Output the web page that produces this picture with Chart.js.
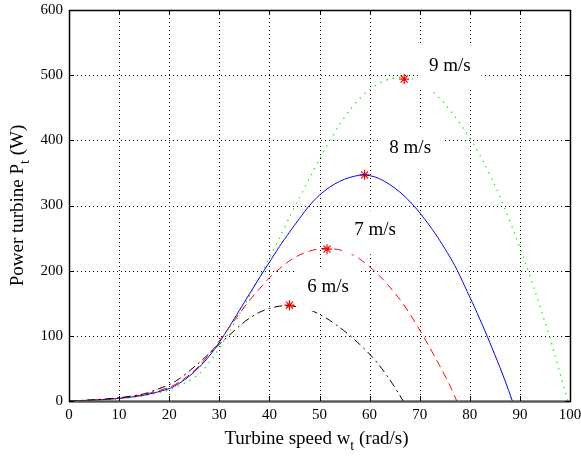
<!DOCTYPE html>
<html><head><meta charset="utf-8">
<script src="https://cdn.jsdelivr.net/npm/chart.js@4"></script>
<style>html,body{margin:0;padding:0;background:#fff}#wrap{width:581px;height:457px}</style>
</head><body><div id="wrap"><canvas id="c" width="581" height="457"></canvas></div>
<script>
// ---- data ----
const speed6 = [0, 5, 10, 15, 18, 20, 22, 24, 26, 28, 30, 32, 34, 36, 38, 40, 42, 44, 46, 48, 50, 52, 54, 56, 58, 60, 62, 64, 66, 66.7];
const power6 = [0, 2, 5, 11, 19, 25, 34, 46, 59, 73, 87, 101, 115, 127, 136, 142, 145.5, 146, 144, 140, 133, 124, 113, 101, 87, 72, 54, 33, 9, 0];

const speed7 = [0, 5, 10, 15, 20, 22, 24, 26, 28, 30, 32, 34, 36, 38, 40, 42, 44, 46, 48, 50, 52, 54, 56, 58, 60, 62, 64, 66, 68, 70, 72, 74, 76, 77.4];
const power7 = [0, 1.5, 4.5, 10, 21, 29, 40, 54, 72, 92, 113, 134, 154, 172, 189, 203, 215, 224, 230, 233.5, 234, 232, 227, 218, 206, 192, 175, 156, 134, 109, 82, 54, 24, 0];

const speed8 = [0, 5, 10, 15, 20, 22, 24, 26, 28, 30, 32, 34, 36, 38, 40, 42, 44, 46, 48, 50, 52, 54, 56, 58, 59, 61, 63, 65, 67, 69, 71, 73, 75, 77, 79, 81, 83, 85, 87, 88.5];
const power8 = [0, 1.5, 4, 9, 19, 27, 38, 52, 69, 90, 114, 139, 164, 189, 213, 237, 259, 280, 300, 316, 328, 337, 343, 346.5, 347, 344, 337, 327, 314, 298, 279, 258, 234, 208, 176, 143, 108, 71, 32, 0];

const speed9 = [0, 5, 10, 15, 20, 22, 24, 26, 28, 30, 32, 34, 36, 38, 40, 42, 44, 46, 48, 50, 52, 54, 56, 58, 60, 62, 64, 66, 67, 69, 71, 73, 75, 77, 79, 81, 83, 85, 87, 89, 91, 93, 95, 97, 99, 99.6];
const power9 = [0, 1, 3.5, 8, 17, 23, 31, 42, 59, 81, 106, 133, 161, 190, 220, 250, 282, 312, 342, 371, 399, 424, 446, 464, 478, 488, 494, 496.5, 497, 493, 485, 472, 456, 437, 415, 391, 363, 331, 295, 256, 214, 169, 121, 70, 16, 0];

const peakSpeed = [44, 51.5, 59, 66.9];
const peakPower = [147, 233, 347, 494];

const windLabels = ['6 m/s', '7 m/s', '8 m/s', '9 m/s'];
const labelSpeed = [51.7, 61.1, 68.1, 76];
const labelPower = [175, 262, 388, 514];

const xTicks = [0, 10, 20, 30, 40, 50, 60, 70, 80, 90, 100];
const yTicks = [0, 100, 200, 300, 400, 500, 600];

const SERIF = '"Liberation Serif", "Times New Roman", serif';

function pts(xs, ys) { return xs.map((x, i) => ({x: x, y: ys[i]})); }

const matlabPlugin = {
  id: 'matlab',
  beforeDatasetsDraw(chart) {
    const {ctx, chartArea: a, scales: {x, y}} = chart;
    ctx.save();
    ctx.strokeStyle = '#000';
    ctx.lineWidth = 1;
    ctx.setLineDash([1, 3]);
    xTicks.forEach(v => {
      const px = Math.round(x.getPixelForValue(v)) + 0.5;
      ctx.beginPath(); ctx.moveTo(px, a.top); ctx.lineTo(px, a.bottom); ctx.stroke();
    });
    yTicks.forEach(v => {
      const py = Math.round(y.getPixelForValue(v)) + 0.5;
      ctx.beginPath(); ctx.moveTo(a.left, py); ctx.lineTo(a.right, py); ctx.stroke();
    });
    ctx.restore();
  },
  afterDatasetsDraw(chart) {
    const {ctx, chartArea: a, scales: {x, y}} = chart;
    ctx.save();
    ctx.font = '19px ' + SERIF;
    ctx.textAlign = 'center';
    ctx.textBaseline = 'middle';
    windLabels.forEach((t, i) => {
      const cx = x.getPixelForValue(labelSpeed[i]);
      const cy = y.getPixelForValue(labelPower[i]);
      const w = ctx.measureText(t).width + 22;
      const h = 44;
      ctx.fillStyle = '#fff';
      ctx.fillRect(cx - w / 2, cy + 2 - h / 2, w, h);
      ctx.fillStyle = '#000';
      ctx.fillText(t, cx, cy);
    });
    ctx.setLineDash([]);
    ctx.strokeStyle = '#000';
    ctx.lineWidth = 1.5;
    ctx.strokeRect(Math.round(a.left) + 0.5, Math.round(a.top) + 0.5, Math.round(a.right - a.left), Math.round(a.bottom - a.top));
    ctx.strokeStyle = '#555';
    ctx.lineWidth = 2;
    ctx.beginPath(); ctx.moveTo(a.left, Math.round(a.bottom) + 0.5); ctx.lineTo(a.right, Math.round(a.bottom) + 0.5); ctx.stroke();
    ctx.strokeStyle = '#000';
    ctx.lineWidth = 1;
    const tl = 5;
    xTicks.forEach(v => {
      const px = Math.round(x.getPixelForValue(v)) + 0.5;
      ctx.beginPath(); ctx.moveTo(px, a.bottom); ctx.lineTo(px, a.bottom - tl); ctx.stroke();
      ctx.beginPath(); ctx.moveTo(px, a.top); ctx.lineTo(px, a.top + tl); ctx.stroke();
    });
    yTicks.forEach(v => {
      const py = Math.round(y.getPixelForValue(v)) + 0.5;
      ctx.beginPath(); ctx.moveTo(a.left, py); ctx.lineTo(a.left + tl, py); ctx.stroke();
      ctx.beginPath(); ctx.moveTo(a.right, py); ctx.lineTo(a.right - tl, py); ctx.stroke();
    });
    ctx.restore();
  },
  afterDraw(chart) {
    const {ctx, chartArea: a} = chart;
    const main = '19px ' + SERIF, sub = '14px ' + SERIF;
    function drawParts(parts, cx, base) {
      let total = 0;
      parts.forEach(p => { ctx.font = p[1] ? sub : main; total += ctx.measureText(p[0]).width; });
      let xx = cx - total / 2;
      parts.forEach(p => {
        ctx.font = p[1] ? sub : main;
        ctx.fillText(p[0], xx, base + (p[1] ? 6 : 0));
        xx += ctx.measureText(p[0]).width;
      });
    }
    ctx.save();
    ctx.fillStyle = '#000';
    ctx.textAlign = 'left';
    ctx.textBaseline = 'alphabetic';
    drawParts([['Turbine speed w', false], ['t', true], [' (rad/s)', false]], (a.left + a.right) / 2 - 3, 444);
    ctx.translate(23, (a.top + a.bottom) / 2);
    ctx.rotate(-Math.PI / 2);
    drawParts([['Power turbine P', false], ['t', true], [' (W)', false]], 0, 0);
    ctx.restore();
  }
};

const tickFont = {family: SERIF, size: 15};

new Chart(document.getElementById('c'), {
  type: 'scatter',
  data: {
    datasets: [
      {data: pts(speed6, power6), showLine: true, pointRadius: 0, borderColor: '#000', borderWidth: 1, borderDash: [8, 4, 2, 4], tension: 0.3, fill: false},
      {data: pts(speed7, power7), showLine: true, pointRadius: 0, borderColor: '#ff0000', borderWidth: 1, borderDash: [8, 5], tension: 0.3, fill: false},
      {data: pts(speed8, power8), showLine: true, pointRadius: 0, borderColor: '#0000ff', borderWidth: 1, tension: 0.3, fill: false},
      {data: pts(speed9, power9), showLine: true, pointRadius: 0, borderColor: '#00ff00', borderWidth: 1.2, borderDash: [1.5, 5], tension: 0.3, fill: false},
      {data: pts(peakSpeed, peakPower), showLine: false, pointStyle: 'star', pointRadius: 5, borderColor: '#ff0000', backgroundColor: '#ff0000', borderWidth: 1.2}
    ]
  },
  options: {
    responsive: false,
    animation: false,
    events: [],
    layout: {padding: {left: 0, right: 11, top: 10, bottom: 0}},
    plugins: {legend: {display: false}, tooltip: {enabled: false}},
    scales: {
      x: {
        type: 'linear', min: 0, max: 100,
        afterBuildTicks: s => { s.ticks = xTicks.map(v => ({value: v})); },
        ticks: {font: tickFont, color: '#000', padding: 5, maxRotation: 0, autoSkip: false},
        grid: {display: false, drawTicks: false},
        border: {display: false},
        afterFit: s => { s.height = 56; s.paddingLeft = 0; s.paddingRight = 0; s.paddingTop = 0; s.paddingBottom = 0; }
      },
      y: {
        type: 'linear', min: 0, max: 600,
        afterBuildTicks: s => { s.ticks = yTicks.map(v => ({value: v})); },
        ticks: {font: tickFont, color: '#000', padding: 6, autoSkip: false},
        grid: {display: false, drawTicks: false},
        border: {display: false},
        afterFit: s => { s.width = 69; s.paddingLeft = 0; s.paddingRight = 0; s.paddingTop = 0; s.paddingBottom = 0; }
      }
    }
  },
  plugins: [matlabPlugin]
});
</script>
</body></html>
